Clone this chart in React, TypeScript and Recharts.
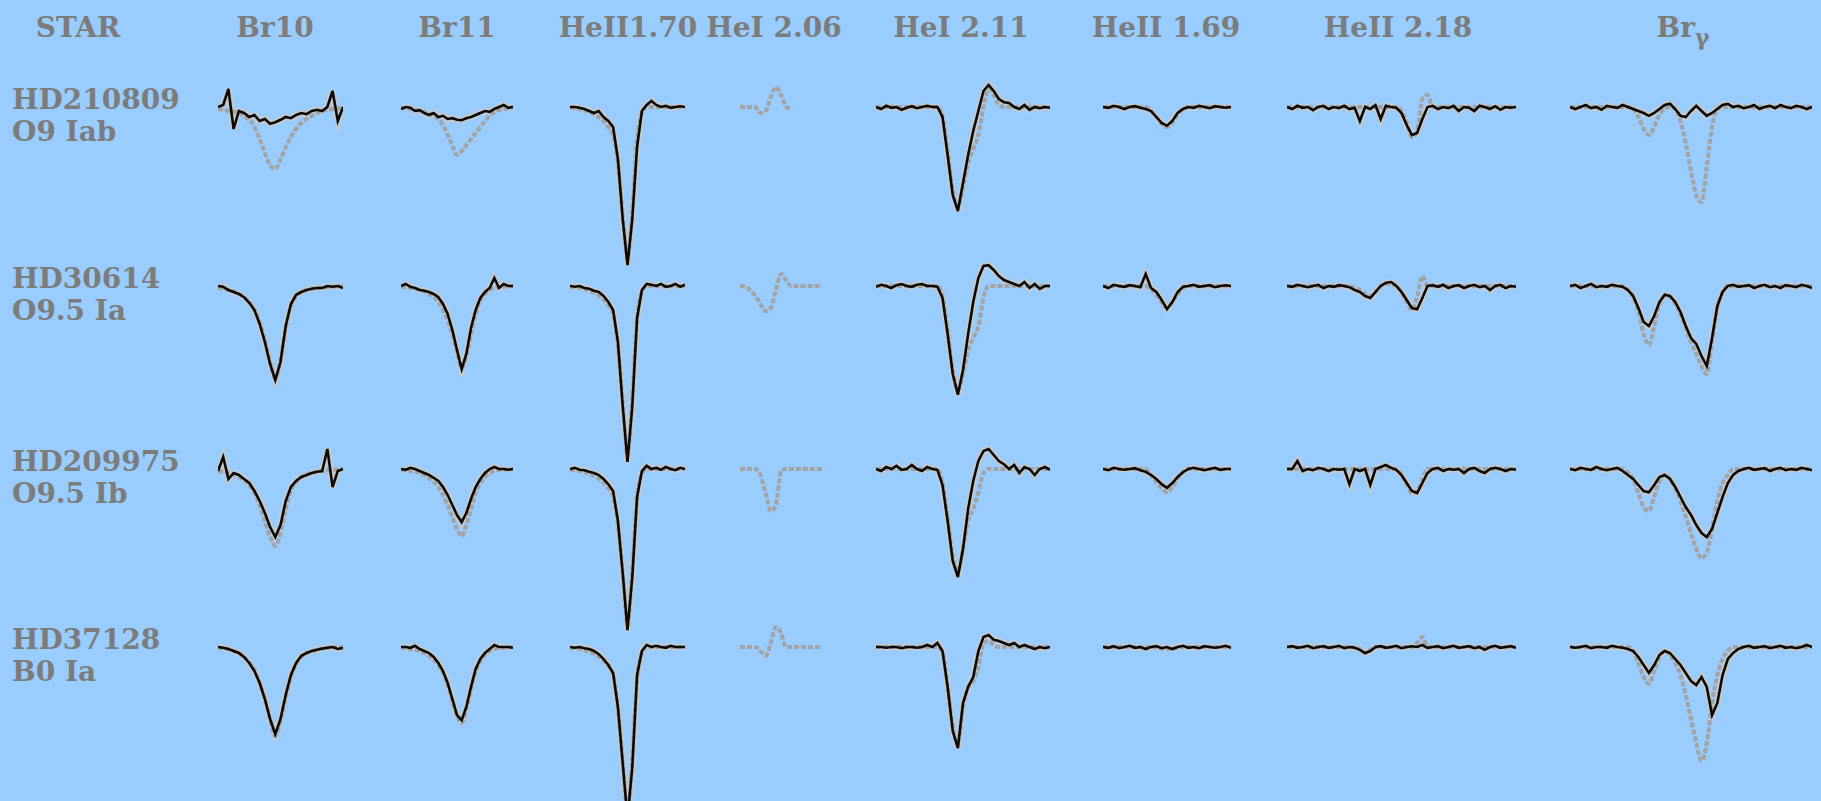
import React from 'react';
import { LineChart, Line, XAxis, YAxis } from 'recharts';

// ---------- labels ----------
const COLUMN_LABELS = ['STAR', 'Br10', 'Br11', 'HeII1.70', 'HeI 2.06', 'HeI 2.11', 'HeII 1.69', 'HeII 2.18', 'Br'];
const STAR_NAMES = ['HD210809', 'HD30614', 'HD209975', 'HD37128'];
const SPECTRAL_TYPES = ['O9 Iab', 'O9.5 Ia', 'O9.5 Ib', 'B0 Ia'];

// ---------- x grids (sample index across each line window) ----------
const X25 = [0, 1, 2, 3, 4, 5, 6, 7, 8, 9, 10, 11, 12, 13, 14, 15, 16, 17, 18, 19, 20, 21, 22, 23, 24];
const X17 = [0, 1, 2, 3, 4, 5, 6, 7, 8, 9, 10, 11, 12, 13, 14, 15, 16];
const X35 = [0, 1, 2, 3, 4, 5, 6, 7, 8, 9, 10, 11, 12, 13, 14, 15, 16, 17, 18, 19, 20, 21, 22, 23, 24, 25, 26, 27, 28, 29, 30, 31, 32, 33, 34];
const X45 = [0, 1, 2, 3, 4, 5, 6, 7, 8, 9, 10, 11, 12, 13, 14, 15, 16, 17, 18, 19, 20, 21, 22, 23, 24, 25, 26, 27, 28, 29, 30, 31, 32, 33, 34, 35, 36, 37, 38, 39, 40, 41, 42, 43, 44];
const X47 = [0, 1, 2, 3, 4, 5, 6, 7, 8, 9, 10, 11, 12, 13, 14, 15, 16, 17, 18, 19, 20, 21, 22, 23, 24, 25, 26, 27, 28, 29, 30, 31, 32, 33, 34, 35, 36, 37, 38, 39, 40, 41, 42, 43, 44, 45, 46];

// ---------- Br10 ----------
const BR10_OBS = [
  [1.0, 1.005, 1.045, 0.945, 0.99, 0.985, 0.975, 0.98, 0.965, 0.97, 0.958, 0.962, 0.968, 0.975, 0.972, 0.98, 0.985, 0.982, 0.99, 0.993, 0.99, 1.0, 1.04, 0.965, 1.0],
  [1.0, 0.998, 0.99, 0.985, 0.98, 0.972, 0.958, 0.94, 0.905, 0.86, 0.805, 0.765, 0.81, 0.9, 0.955, 0.978, 0.985, 0.99, 0.993, 0.995, 0.995, 1.0, 0.998, 1.0, 0.995],
  [0.995, 1.03, 0.975, 0.99, 0.985, 0.975, 0.965, 0.945, 0.92, 0.89, 0.855, 0.83, 0.86, 0.92, 0.955, 0.97, 0.98, 0.985, 0.99, 0.993, 0.995, 1.05, 0.955, 0.995, 1.0],
  [1.0, 0.998, 0.995, 0.99, 0.985, 0.975, 0.96, 0.94, 0.91, 0.87, 0.82, 0.782, 0.82, 0.88, 0.93, 0.96, 0.978, 0.985, 0.99, 0.993, 0.996, 0.998, 1.0, 0.995, 0.998],
];
const BR10_MODEL = [
  [0.995, 0.993, 0.99, 0.988, 0.984, 0.978, 0.968, 0.95, 0.92, 0.885, 0.855, 0.845, 0.87, 0.9, 0.925, 0.945, 0.96, 0.97, 0.978, 0.985, 0.99, 0.993, 0.995, 0.997, 1.0],
  [0.995, 0.993, 0.99, 0.986, 0.98, 0.972, 0.96, 0.94, 0.91, 0.865, 0.81, 0.77, 0.815, 0.895, 0.95, 0.975, 0.985, 0.99, 0.993, 0.995, 0.996, 0.997, 0.998, 0.999, 1.0],
  [0.995, 0.993, 0.99, 0.986, 0.98, 0.972, 0.96, 0.94, 0.91, 0.87, 0.83, 0.808, 0.84, 0.9, 0.945, 0.968, 0.98, 0.986, 0.99, 0.993, 0.995, 0.997, 0.998, 0.999, 1.0],
  [0.998, 0.996, 0.994, 0.99, 0.985, 0.975, 0.962, 0.942, 0.91, 0.87, 0.82, 0.778, 0.815, 0.875, 0.925, 0.958, 0.975, 0.985, 0.99, 0.993, 0.996, 0.998, 0.999, 1.0, 1.0],
];

// ---------- Br11 ----------
const BR11_OBS = [
  [0.995, 1.0, 0.998, 0.99, 0.992, 0.985, 0.98, 0.985, 0.975, 0.978, 0.97, 0.972, 0.968, 0.967, 0.972, 0.975, 0.98, 0.985, 0.99, 0.988, 0.995, 1.0, 1.005, 0.998, 1.0],
  [1.0, 1.005, 0.998, 0.995, 0.99, 0.988, 0.985, 0.98, 0.972, 0.955, 0.93, 0.89, 0.84, 0.792, 0.83, 0.895, 0.94, 0.97, 0.985, 0.995, 1.02, 0.995, 1.005, 1.0, 1.0],
  [1.0, 0.998, 1.003, 1.0, 0.995, 0.99, 0.985, 0.978, 0.97, 0.955, 0.935, 0.91, 0.885, 0.867, 0.89, 0.925, 0.955, 0.975, 0.99, 1.0, 1.005, 1.0, 1.0, 0.998, 1.0],
  [1.0, 1.0, 0.998, 1.003, 0.995, 0.99, 0.985, 0.975, 0.96, 0.94, 0.91, 0.87, 0.83, 0.817, 0.85, 0.9, 0.945, 0.97, 0.985, 0.995, 1.005, 1.0, 1.0, 1.0, 0.998],
];
const BR11_MODEL = [
  [0.998, 0.997, 0.995, 0.993, 0.99, 0.987, 0.983, 0.978, 0.97, 0.955, 0.93, 0.905, 0.88, 0.89, 0.905, 0.92, 0.935, 0.95, 0.965, 0.978, 0.987, 0.992, 0.995, 0.997, 1.0],
  [0.998, 0.997, 0.995, 0.993, 0.99, 0.986, 0.98, 0.972, 0.96, 0.94, 0.915, 0.88, 0.835, 0.795, 0.825, 0.88, 0.93, 0.965, 0.98, 0.99, 0.995, 0.997, 0.998, 0.999, 1.0],
  [0.998, 0.997, 0.995, 0.993, 0.99, 0.985, 0.978, 0.968, 0.955, 0.935, 0.91, 0.88, 0.85, 0.832, 0.86, 0.9, 0.94, 0.965, 0.98, 0.99, 0.995, 0.997, 0.998, 0.999, 1.0],
  [0.998, 0.997, 0.995, 0.993, 0.99, 0.985, 0.978, 0.968, 0.955, 0.935, 0.905, 0.865, 0.828, 0.81, 0.845, 0.895, 0.94, 0.965, 0.98, 0.99, 0.995, 0.997, 0.998, 0.999, 1.0],
];

// ---------- HeII 1.70 ----------
const HEII170_OBS = [
  [1.0, 1.0, 0.998, 0.995, 0.99, 0.985, 0.99, 0.975, 0.965, 0.95, 0.87, 0.72, 0.605, 0.72, 0.9, 0.99, 1.005, 1.015, 1.005, 1.0, 1.003, 0.998, 1.0, 1.002, 1.0],
  [1.0, 0.998, 1.0, 0.995, 0.993, 0.988, 0.985, 0.975, 0.96, 0.94, 0.86, 0.7, 0.56, 0.7, 0.92, 0.99, 1.005, 1.003, 1.0, 1.005, 0.998, 1.0, 1.005, 0.998, 1.003],
  [1.0, 1.003, 0.998, 0.997, 0.993, 0.99, 0.985, 0.975, 0.962, 0.945, 0.87, 0.74, 0.597, 0.73, 0.93, 0.995, 1.008, 1.0, 1.003, 0.998, 1.005, 1.0, 0.997, 1.003, 1.0],
  [1.0, 0.998, 1.0, 0.997, 0.995, 0.99, 0.982, 0.97, 0.955, 0.935, 0.85, 0.71, 0.57, 0.7, 0.93, 0.99, 1.005, 1.0, 1.003, 1.0, 0.998, 1.003, 1.0, 1.0, 1.0],
];
const HEII170_MODEL = [
  [0.998, 0.997, 0.995, 0.992, 0.988, 0.982, 0.975, 0.965, 0.95, 0.93, 0.86, 0.73, 0.62, 0.74, 0.92, 0.985, 1.0, 1.0, 1.0, 1.0, 1.0, 1.0, 1.0, 1.0, 1.0],
  [0.998, 0.997, 0.995, 0.992, 0.988, 0.983, 0.976, 0.966, 0.952, 0.93, 0.85, 0.71, 0.575, 0.72, 0.92, 0.985, 1.0, 1.0, 1.0, 1.0, 1.0, 1.0, 1.0, 1.0, 1.0],
  [0.998, 0.997, 0.995, 0.992, 0.988, 0.983, 0.976, 0.966, 0.952, 0.93, 0.86, 0.74, 0.61, 0.75, 0.93, 0.988, 1.0, 1.0, 1.0, 1.0, 1.0, 1.0, 1.0, 1.0, 1.0],
  [0.998, 0.997, 0.995, 0.992, 0.988, 0.983, 0.976, 0.966, 0.952, 0.93, 0.845, 0.715, 0.585, 0.72, 0.92, 0.985, 1.0, 1.0, 1.0, 1.0, 1.0, 1.0, 1.0, 1.0, 1.0],
];

// ---------- HeI 2.06 (model only) ----------
const HEI206_MODEL = [
  [1.0, 1.0, 1.0, 1.0, 0.985, 0.99, 1.025, 1.05, 1.03, 1.0, 0.995, null, null, null, null, null, null],
  [1.0, 0.998, 0.99, 0.975, 0.955, 0.937, 0.945, 0.99, 1.03, 1.015, 1.0, 1.0, 1.0, 1.0, 1.0, 1.0, 1.0],
  [1.0, 1.0, 1.0, 1.0, 0.985, 0.94, 0.895, 0.91, 0.995, 1.0, 1.0, 1.0, 1.0, 1.0, 1.0, 1.0, 1.0],
  [1.0, 1.0, 1.0, 1.0, 0.99, 0.978, 1.01, 1.05, 1.035, 1.0, 1.0, 1.0, 1.0, 1.0, 1.0, 1.0, 1.0],
];

// ---------- HeI 2.11 ----------
const HEI211_OBS = [
  [1.0, 0.995, 1.003, 0.998, 1.0, 0.993, 0.998, 1.002, 0.997, 1.0, 1.003, 1.0, 1.0, 0.975, 0.88, 0.78, 0.74, 0.81, 0.88, 0.94, 0.99, 1.04, 1.055, 1.04, 1.02, 1.012, 1.01, 1.0, 0.995, 1.005, 0.993, 1.0, 0.997, 1.0, 0.998],
  [0.998, 1.003, 1.0, 0.995, 1.002, 1.005, 1.0, 0.998, 1.003, 1.005, 1.0, 1.0, 0.998, 0.97, 0.88, 0.78, 0.728, 0.79, 0.88, 0.96, 1.02, 1.05, 1.052, 1.04, 1.025, 1.015, 1.01, 1.005, 1.0, 1.01, 0.995, 1.005, 0.993, 1.0, 1.0],
  [1.0, 0.995, 1.005, 1.0, 1.008, 0.998, 1.0, 1.01, 1.0, 0.995, 1.005, 1.0, 0.998, 0.96, 0.87, 0.77, 0.73, 0.8, 0.9, 0.97, 1.02, 1.045, 1.05, 1.035, 1.02, 1.012, 1.0, 1.01, 0.99, 1.005, 1.0, 0.985, 1.0, 1.005, 0.998],
  [1.0, 1.0, 0.998, 1.0, 1.0, 0.997, 1.0, 1.0, 0.998, 1.0, 1.005, 1.0, 1.01, 0.99, 0.9, 0.79, 0.747, 0.86, 0.9, 0.925, 0.99, 1.025, 1.03, 1.018, 1.015, 1.01, 1.005, 1.01, 1.0, 1.005, 1.0, 0.995, 1.0, 0.997, 1.0],
];
const HEI211_MODEL = [
  [1.0, 1.0, 1.0, 1.0, 1.0, 1.0, 1.0, 1.0, 1.0, 1.0, 1.0, 1.0, 1.0, 0.975, 0.89, 0.79, 0.75, 0.8, 0.86, 0.895, 0.93, 1.0, 1.045, 1.03, 1.005, 1.0, 1.0, 1.0, 1.0, 1.0, 1.0, 1.0, 1.0, 1.0, 1.0],
  [1.0, 1.0, 1.0, 1.0, 1.0, 1.0, 1.0, 1.0, 1.0, 1.0, 1.0, 1.0, 1.0, 0.975, 0.89, 0.79, 0.74, 0.78, 0.84, 0.87, 0.9, 0.97, 1.0, 1.0, 1.0, 1.0, 1.0, 1.0, 1.0, 1.0, 1.0, 1.0, 1.0, 1.0, 1.0],
  [1.0, 1.0, 1.0, 1.0, 1.0, 1.0, 1.0, 1.0, 1.0, 1.0, 1.0, 1.0, 1.0, 0.965, 0.88, 0.78, 0.745, 0.8, 0.87, 0.9, 0.94, 0.99, 1.0, 1.0, 1.0, 1.0, 1.0, 1.0, 1.0, 1.0, 1.0, 1.0, 1.0, 1.0, 1.0],
  [1.0, 1.0, 1.0, 1.0, 1.0, 1.0, 1.0, 1.0, 1.0, 1.0, 1.0, 1.0, 1.0, 0.985, 0.9, 0.8, 0.76, 0.85, 0.9, 0.915, 0.95, 1.01, 1.015, 1.005, 1.0, 1.0, 1.0, 1.0, 1.0, 1.0, 1.0, 1.0, 1.0, 1.0, 1.0],
];

// ---------- HeII 1.69 ----------
const HEII169_OBS = [
  [1.0, 0.998, 1.003, 1.0, 0.995, 1.0, 1.002, 0.998, 0.995, 0.99, 0.975, 0.96, 0.953, 0.965, 0.985, 0.995, 1.0, 0.998, 1.003, 1.0, 0.997, 1.002, 1.0, 0.998, 1.0],
  [1.0, 0.995, 1.003, 1.0, 0.998, 1.002, 1.0, 0.997, 1.03, 0.995, 0.985, 0.965, 0.942, 0.96, 0.985, 0.998, 1.0, 1.003, 0.998, 1.0, 1.002, 0.997, 1.0, 1.002, 1.0],
  [1.0, 0.997, 1.003, 1.0, 0.998, 1.0, 1.002, 0.997, 0.993, 0.985, 0.975, 0.962, 0.953, 0.965, 0.98, 0.992, 1.0, 1.003, 1.0, 0.997, 1.0, 1.003, 0.998, 1.0, 1.0],
  [1.0, 0.998, 1.002, 0.997, 1.0, 1.003, 0.998, 1.0, 0.995, 1.0, 1.002, 0.997, 1.0, 0.995, 1.0, 1.003, 0.998, 1.0, 0.997, 1.002, 1.0, 0.998, 1.0, 1.003, 0.998],
];
const HEII169_MODEL = [
  [1.0, 1.0, 1.0, 1.0, 1.0, 1.0, 1.0, 1.0, 1.0, 0.99, 0.975, 0.958, 0.95, 0.962, 0.982, 0.995, 1.0, 1.0, 1.0, 1.0, 1.0, 1.0, 1.0, 1.0, 1.0],
  [1.0, 1.0, 1.0, 1.0, 1.0, 1.0, 1.0, 1.0, 1.0, 0.992, 0.978, 0.96, 0.945, 0.96, 0.98, 0.995, 1.0, 1.0, 1.0, 1.0, 1.0, 1.0, 1.0, 1.0, 1.0],
  [1.0, 1.0, 1.0, 1.0, 1.0, 1.0, 1.0, 1.0, 1.0, 0.985, 0.968, 0.952, 0.942, 0.955, 0.978, 0.993, 1.0, 1.0, 1.0, 1.0, 1.0, 1.0, 1.0, 1.0, 1.0],
  [1.0, 1.0, 1.0, 1.0, 1.0, 1.0, 1.0, 1.0, 1.0, 1.0, 0.998, 0.996, 0.995, 0.996, 0.998, 1.0, 1.0, 1.0, 1.0, 1.0, 1.0, 1.0, 1.0, 1.0, 1.0],
];

// ---------- HeII 2.18 ----------
const HEII218_OBS = [
  [1.0, 0.995, 1.003, 0.998, 1.0, 0.992, 1.0, 1.003, 0.995, 1.0, 0.997, 1.003, 0.995, 0.998, 0.965, 1.0, 0.995, 1.005, 0.97, 1.003, 1.0, 0.998, 0.985, 0.955, 0.93, 0.935, 0.97, 1.0, 1.003, 0.995, 1.0, 0.997, 1.003, 0.99, 1.0, 0.998, 0.99, 1.003, 1.0, 0.995, 1.002, 0.993, 1.0, 0.998, 1.0],
  [1.0, 0.998, 1.003, 1.0, 0.997, 1.0, 1.003, 0.995, 1.0, 0.998, 1.002, 1.0, 0.997, 0.99, 0.985, 0.975, 0.97, 0.985, 1.0, 1.008, 1.01, 1.0, 0.985, 0.965, 0.945, 0.942, 0.97, 1.0, 1.002, 0.998, 1.003, 0.995, 1.0, 1.002, 0.995, 1.0, 1.003, 0.997, 1.0, 0.99, 1.0, 1.003, 0.995, 1.0, 0.998],
  [1.0, 1.0, 1.02, 0.995, 1.0, 0.997, 1.003, 1.0, 0.995, 1.0, 0.998, 1.0, 0.962, 1.0, 0.995, 1.0, 0.96, 1.0, 1.005, 1.01, 1.003, 0.998, 0.985, 0.965, 0.945, 0.94, 0.965, 0.99, 1.0, 1.003, 0.995, 1.0, 0.998, 1.0, 0.99, 1.0, 1.003, 0.995, 0.99, 1.0, 1.003, 1.0, 0.995, 1.0, 0.998],
  [1.0, 1.002, 0.998, 1.0, 1.003, 0.997, 1.0, 1.002, 0.998, 1.0, 1.003, 0.997, 1.0, 0.998, 0.993, 0.985, 0.99, 1.0, 1.002, 0.998, 1.0, 1.003, 0.997, 1.0, 1.002, 1.0, 1.005, 0.998, 1.0, 1.002, 0.997, 1.0, 1.003, 0.998, 1.0, 1.002, 0.997, 1.0, 0.993, 1.0, 1.003, 0.998, 1.0, 1.002, 0.998],
];
const HEII218_MODEL = [
  [1.0, 1.0, 1.0, 1.0, 1.0, 1.0, 1.0, 1.0, 1.0, 1.0, 1.0, 1.0, 1.0, 1.0, 1.0, 1.0, 1.0, 1.0, 1.0, 1.0, 1.0, 1.0, 0.99, 0.96, 0.925, 0.94, 1.02, 1.03, 1.0, 1.0, 1.0, 1.0, 1.0, 1.0, 1.0, 1.0, 1.0, 1.0, 1.0, 1.0, 1.0, 1.0, 1.0, 1.0, 1.0],
  [1.0, 1.0, 1.0, 1.0, 1.0, 1.0, 1.0, 1.0, 1.0, 1.0, 1.0, 1.0, 1.0, 0.995, 0.99, 0.98, 0.975, 0.985, 1.0, 1.005, 1.005, 1.0, 0.985, 0.96, 0.94, 0.975, 1.025, 1.0, 1.0, 1.0, 1.0, 1.0, 1.0, 1.0, 1.0, 1.0, 1.0, 1.0, 1.0, 1.0, 1.0, 1.0, 1.0, 1.0, 1.0],
  [1.0, 1.0, 1.0, 1.0, 1.0, 1.0, 1.0, 1.0, 1.0, 1.0, 1.0, 1.0, 1.0, 1.0, 1.0, 1.0, 1.0, 1.0, 1.0, 1.0, 1.0, 1.0, 0.985, 0.96, 0.94, 0.945, 0.975, 1.0, 1.0, 1.0, 1.0, 1.0, 1.0, 1.0, 1.0, 1.0, 1.0, 1.0, 1.0, 1.0, 1.0, 1.0, 1.0, 1.0, 1.0],
  [1.0, 1.0, 1.0, 1.0, 1.0, 1.0, 1.0, 1.0, 1.0, 1.0, 1.0, 1.0, 1.0, 1.0, 0.995, 0.985, 0.993, 1.0, 1.0, 1.0, 1.0, 1.0, 1.0, 1.0, 1.0, 1.01, 1.025, 1.0, 1.0, 1.0, 1.0, 1.0, 1.0, 1.0, 1.0, 1.0, 1.0, 1.0, 1.0, 1.0, 1.0, 1.0, 1.0, 1.0, 1.0],
];

// ---------- Br gamma ----------
const BRG_OBS = [
  [1.0, 0.995, 1.0, 1.005, 0.997, 1.0, 0.993, 1.003, 1.0, 0.998, 1.005, 1.0, 0.995, 0.99, 0.985, 0.978, 0.985, 0.995, 1.005, 1.008, 0.995, 0.978, 0.975, 0.99, 1.003, 0.99, 0.978, 0.985, 0.995, 1.005, 1.008, 1.0, 1.003, 0.997, 1.0, 1.005, 0.995, 1.0, 1.003, 0.997, 1.005, 1.0, 0.997, 1.003, 1.0, 0.995, 1.0],
  [1.0, 1.003, 0.995, 1.0, 1.005, 0.997, 1.0, 0.998, 1.003, 1.0, 0.998, 0.99, 0.975, 0.945, 0.91, 0.9, 0.925, 0.96, 0.978, 0.975, 0.96, 0.935, 0.9, 0.87, 0.855, 0.825, 0.8, 0.87, 0.95, 0.985, 1.0, 1.003, 0.998, 1.0, 1.002, 0.995, 1.0, 1.003, 0.997, 1.0, 0.995, 1.002, 1.0, 0.997, 1.003, 1.0, 0.995],
  [1.0, 0.997, 1.003, 1.0, 0.998, 1.005, 1.0, 0.997, 1.0, 1.003, 0.995, 0.985, 0.975, 0.96, 0.945, 0.942, 0.96, 0.98, 0.985, 0.975, 0.955, 0.93, 0.905, 0.885, 0.86, 0.84, 0.83, 0.85, 0.89, 0.93, 0.965, 0.985, 0.995, 1.0, 1.003, 0.998, 1.0, 1.002, 0.995, 1.0, 1.003, 0.997, 1.0, 0.998, 1.003, 1.0, 0.997],
  [1.0, 0.998, 1.0, 1.003, 0.997, 1.0, 1.0, 0.998, 1.003, 1.0, 0.998, 0.995, 0.99, 0.975, 0.955, 0.935, 0.955, 0.98, 0.99, 0.985, 0.97, 0.955, 0.935, 0.915, 0.905, 0.925, 0.9, 0.83, 0.86, 0.93, 0.97, 0.985, 0.995, 1.0, 1.003, 0.998, 1.0, 1.002, 0.997, 1.0, 1.003, 0.998, 1.0, 0.997, 1.0, 1.005, 1.0],
];
const BRG_MODEL = [
  [1.0, 1.0, 1.0, 1.0, 1.0, 1.0, 1.0, 1.0, 1.0, 1.0, 1.0, 1.0, 0.995, 0.975, 0.945, 0.93, 0.95, 0.98, 0.995, 1.0, 0.995, 0.965, 0.91, 0.84, 0.78, 0.762, 0.85, 0.95, 0.995, 1.0, 1.0, 1.0, 1.0, 1.0, 1.0, 1.0, 1.0, 1.0, 1.0, 1.0, 1.0, 1.0, 1.0, 1.0, 1.0, 1.0, 1.0],
  [1.0, 1.0, 1.0, 1.0, 1.0, 1.0, 1.0, 1.0, 1.0, 1.0, 1.0, 0.99, 0.972, 0.935, 0.88, 0.852, 0.9, 0.955, 0.975, 0.972, 0.955, 0.93, 0.895, 0.86, 0.83, 0.8, 0.78, 0.86, 0.945, 0.985, 1.0, 1.0, 1.0, 1.0, 1.0, 1.0, 1.0, 1.0, 1.0, 1.0, 1.0, 1.0, 1.0, 1.0, 1.0, 1.0, 1.0],
  [1.0, 1.0, 1.0, 1.0, 1.0, 1.0, 1.0, 1.0, 1.0, 1.0, 1.0, 0.99, 0.975, 0.94, 0.905, 0.895, 0.93, 0.97, 0.985, 0.975, 0.95, 0.92, 0.88, 0.84, 0.8, 0.777, 0.79, 0.85, 0.92, 0.965, 0.985, 1.0, 1.0, 1.0, 1.0, 1.0, 1.0, 1.0, 1.0, 1.0, 1.0, 1.0, 1.0, 1.0, 1.0, 1.0, 1.0],
  [1.0, 1.0, 1.0, 1.0, 1.0, 1.0, 1.0, 1.0, 1.0, 1.0, 1.0, 1.0, 0.99, 0.96, 0.925, 0.908, 0.94, 0.975, 0.99, 0.98, 0.96, 0.93, 0.88, 0.82, 0.76, 0.715, 0.76, 0.86, 0.93, 0.97, 0.99, 1.0, 1.0, 1.0, 1.0, 1.0, 1.0, 1.0, 1.0, 1.0, 1.0, 1.0, 1.0, 1.0, 1.0, 1.0, 1.0],
];

// ---------- layout ----------
const W = 1821;
const H = 801;
const BG = '#99CCFF';
const TEXT_COLOR = '#7c7c7c';
const ROW_CONTINUUM_Y = [107, 286, 469, 647];
const PANEL_HEIGHT = 260;
const Y_DOMAIN: [number, number] = [0.45, 1.1];
const HEADER_X = [78, 275, 457, 628, 774, 961, 1166, 1398, 1683];

type Column = { left: number; width: number; xs: number[]; obs: (number | null)[][] | null; model: (number | null)[][] };
const COLUMNS: Column[] = [
  { left: 218, width: 125, xs: X25, obs: BR10_OBS, model: BR10_MODEL },
  { left: 401, width: 112, xs: X25, obs: BR11_OBS, model: BR11_MODEL },
  { left: 570, width: 115, xs: X25, obs: HEII170_OBS, model: HEII170_MODEL },
  { left: 740, width: 82, xs: X17, obs: null, model: HEI206_MODEL },
  { left: 876, width: 174, xs: X35, obs: HEI211_OBS, model: HEI211_MODEL },
  { left: 1103, width: 128, xs: X25, obs: HEII169_OBS, model: HEII169_MODEL },
  { left: 1287, width: 229, xs: X45, obs: HEII218_OBS, model: HEII218_MODEL },
  { left: 1570, width: 242, xs: X47, obs: BRG_OBS, model: BRG_MODEL },
];

function Panel({ col, row }: { col: Column; row: number }) {
  const data = col.xs.map((x, i) => ({
    x,
    obs: col.obs ? col.obs[row][i] : null,
    model: col.model[row][i],
  }));
  const top = ROW_CONTINUUM_Y[row] - ((Y_DOMAIN[1] - 1) / (Y_DOMAIN[1] - Y_DOMAIN[0])) * PANEL_HEIGHT;
  return (
    <div style={{ position: 'absolute', left: col.left, top, width: col.width, height: PANEL_HEIGHT }}>
      <LineChart width={col.width} height={PANEL_HEIGHT} data={data} margin={{ top: 0, right: 0, bottom: 0, left: 0 }}>
        <XAxis dataKey="x" type="number" domain={[col.xs[0], col.xs[col.xs.length - 1]]} hide />
        <YAxis type="number" domain={Y_DOMAIN} hide />
        {col.obs && (
          <Line dataKey="obs" type="linear" stroke="#c9c9c9" strokeWidth={6} dot={false} isAnimationActive={false} />
        )}
        <Line dataKey="model" type="monotone" stroke="#a3a3a3" strokeWidth={4} strokeDasharray="5 2" dot={false} isAnimationActive={false} />
        {col.obs && (
          <Line dataKey="obs" type="linear" stroke="#0a0a0a" strokeWidth={2.6} dot={false} isAnimationActive={false} />
        )}
      </LineChart>
    </div>
  );
}

export default function App() {
  const font = { fontFamily: '"DejaVu Serif", serif', fontWeight: 700, fontSize: 28, fill: TEXT_COLOR };
  return (
    <div style={{ position: 'absolute', left: 0, top: 0, width: W, height: H, background: BG, overflow: 'hidden' }}>
      <svg width={W} height={H} style={{ position: 'absolute', left: 0, top: 0 }}>
        {COLUMN_LABELS.map((label, i) => (
          <text key={label} x={HEADER_X[i]} y={37} textAnchor="middle" {...font}>
            {label}
            {i === COLUMN_LABELS.length - 1 && (
              <tspan fontSize={22} dy={8}>γ</tspan>
            )}
          </text>
        ))}
        {STAR_NAMES.map((name, r) => (
          <text key={name} x={12} y={ROW_CONTINUUM_Y[r] + 2} {...font}>{name}</text>
        ))}
        {SPECTRAL_TYPES.map((sp, r) => (
          <text key={sp + r} x={12} y={ROW_CONTINUUM_Y[r] + 34} {...font}>{sp}</text>
        ))}
      </svg>
      {COLUMNS.map((col, c) =>
        ROW_CONTINUUM_Y.map((_, r) => <Panel key={`${c}-${r}`} col={col} row={r} />)
      )}
    </div>
  );
}
